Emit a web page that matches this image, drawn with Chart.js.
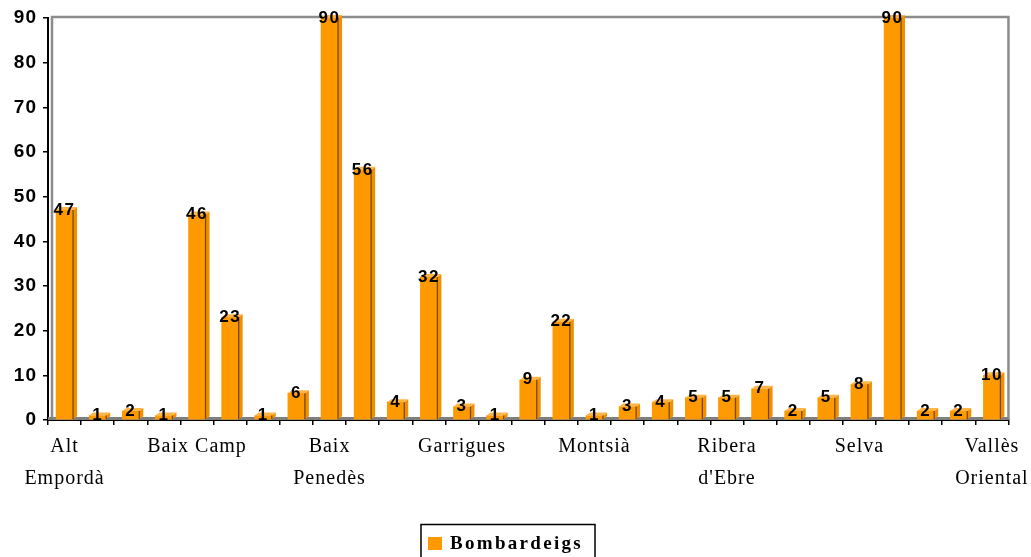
<!DOCTYPE html>
<html>
<head>
    <title>Bombardeigs per comarca</title>
    <script src="https://cdn.jsdelivr.net/npm/chart.js"></script>
    <style>
        body {
            margin: 0;
            background-color: #fff;
        }
        #grafic {
            display: block;
        }
    </style>
</head>
<body>
    <canvas id="grafic" width="1031" height="557"></canvas>

    <script>
        // Comarques, en ordre alfabètic
        var comarques = [
            'Alt Empordà', 'Alt Penedès', 'Anoia', 'Bages', 'Baix Camp', 'Baix Ebre',
            'Baix Empordà', 'Baix Llobregat', 'Baix Penedès', 'Barcelonès', 'Berguedà',
            'Garraf', 'Garrigues', 'Garrotxa', 'Gironès', 'Maresme', 'Montsià', 'Noguera',
            'Osona', 'Priorat', "Ribera d'Ebre", 'Ripollès', 'Segarra', 'Segrià', 'Selva',
            'Tarragonès', 'Terra Alta', 'Vallès Occidental', 'Vallès Oriental'
        ];
        var bombardeigs = [47, 1, 2, 1, 46, 23, 1, 6, 90, 56, 4, 32, 3, 1, 9, 22, 1, 3, 4, 5, 5, 7, 2, 5, 8, 90, 2, 2, 10];
        // només s'escriu una etiqueta de cada quatre
        var etiquetesEix = [
            ['Alt', 'Empordà'], 'Baix Camp', ['Baix', 'Penedès'], 'Garrigues',
            'Montsià', ['Ribera', "d'Ebre"], 'Selva', ['Vallès', 'Oriental']
        ];
        var marcsEixY = [0, 10, 20, 30, 40, 50, 60, 70, 80, 90];

        var taronja = '#FF9900';

        // columnes amb aspecte 3D, fons, etiquetes de valor i llegenda
        var efecte3D = {
            id: 'efecte3D',
            beforeDraw: function(chart) {
                chart.ctx.letterSpacing = '1px';
            },
            beforeDatasetsDraw: function(chart) {
                var ctx = chart.ctx, a = chart.chartArea;
                ctx.save();
                ctx.strokeStyle = '#8c8c8c';
                ctx.lineWidth = 2.5;
                ctx.beginPath();
                ctx.moveTo(a.left + 4, a.bottom - 3);
                ctx.lineTo(a.left + 4, a.top - 1);
                ctx.lineTo(a.right, a.top - 1);
                ctx.lineTo(a.right, a.bottom);
                ctx.stroke();
                ctx.fillStyle = '#7f7f7f';
                ctx.fillRect(a.left, a.bottom - 3, a.right - a.left, 3);
                ctx.restore();
            },
            afterDatasetsDraw: function(chart) {
                var ctx = chart.ctx;
                var meta = chart.getDatasetMeta(0);
                var dx = 4, dy = 3;
                ctx.save();
                meta.data.forEach(function(bar) {
                    var p = bar.getProps(['x', 'y', 'base', 'width'], true);
                    var l = p.x - p.width / 2, r = p.x + p.width / 2;
                    // cara lateral
                    ctx.fillStyle = '#F09000';
                    ctx.beginPath();
                    ctx.moveTo(r, p.base);
                    ctx.lineTo(r, p.y);
                    ctx.lineTo(r + dx, p.y - dy);
                    ctx.lineTo(r + dx, p.base - dy);
                    ctx.closePath();
                    ctx.fill();
                    // cara superior
                    ctx.fillStyle = '#FFB446';
                    ctx.beginPath();
                    ctx.moveTo(l, p.y);
                    ctx.lineTo(l + dx, p.y - dy);
                    ctx.lineTo(r + dx, p.y - dy);
                    ctx.lineTo(r, p.y);
                    ctx.closePath();
                    ctx.fill();
                    // aresta fosca
                    ctx.strokeStyle = '#7a4800';
                    ctx.lineWidth = 1.3;
                    ctx.beginPath();
                    ctx.moveTo(r, p.base);
                    ctx.lineTo(r, p.y);
                    ctx.stroke();
                });
                // valors damunt de cada columna
                ctx.font = 'bold 17px "Liberation Sans", Arial, sans-serif';
                ctx.letterSpacing = '1.5px';
                ctx.fillStyle = '#000';
                ctx.textAlign = 'center';
                ctx.textBaseline = 'middle';
                meta.data.forEach(function(bar, i) {
                    ctx.fillText(String(bombardeigs[i]), bar.x, bar.y);
                });
                ctx.restore();
            },
            afterDraw: function(chart) {
                var ctx = chart.ctx;
                ctx.save();
                ctx.strokeStyle = '#000';
                ctx.lineWidth = 1.5;
                ctx.strokeRect(421, 524.5, 174, 40);
                ctx.fillStyle = chart.data.datasets[0].backgroundColor;
                ctx.fillRect(428, 537, 14, 13);
                ctx.font = 'bold 19px "Liberation Serif", "Times New Roman", serif';
                ctx.letterSpacing = '2.3px';
                ctx.fillStyle = '#000';
                ctx.textAlign = 'left';
                ctx.textBaseline = 'middle';
                ctx.fillText(chart.data.datasets[0].label, 450, 544);
                ctx.restore();
            }
        };

        var ctx = document.getElementById('grafic').getContext('2d');
        var grafic = new Chart(ctx, {
            type: 'bar',
            data: {
                labels: comarques,
                datasets: [{
                    label: 'Bombardeigs',
                    data: bombardeigs,
                    backgroundColor: taronja,
                    borderWidth: 0,
                    barThickness: 17
                }]
            },
            options: {
                responsive: false,
                animation: false,
                devicePixelRatio: 1,
                layout: {
                    padding: { top: 18, right: 19, left: 0, bottom: 0 }
                },
                plugins: {
                    legend: { display: false },
                    tooltip: { enabled: false }
                },
                scales: {
                    x: {
                        offset: true,
                        grid: {
                            offset: true,
                            drawOnChartArea: false,
                            color: '#000',
                            lineWidth: 1.5,
                            tickLength: 5
                        },
                        border: { color: '#000', width: 2 },
                        ticks: {
                            autoSkip: false,
                            maxRotation: 0,
                            padding: 6,
                            color: '#000',
                            font: { family: '"Liberation Serif", "Times New Roman", serif', size: 20, lineHeight: 1.6 },
                            callback: function(v, i) {
                                return i % 4 === 0 ? etiquetesEix[i / 4] : '';
                            }
                        },
                        afterFit: function(scale) {
                            scale.height = 137;
                        }
                    },
                    y: {
                        min: 0,
                        max: 90,
                        afterBuildTicks: function(scale) {
                            scale.ticks = marcsEixY.map(function(v) { return { value: v }; });
                        },
                        grid: {
                            drawOnChartArea: false,
                            color: '#000',
                            lineWidth: 1.5,
                            tickLength: 5
                        },
                        border: { color: '#000', width: 2 },
                        ticks: {
                            padding: 6,
                            color: '#000',
                            font: { family: '"Liberation Sans", Arial, sans-serif', size: 19, weight: 'bold' }
                        },
                        afterFit: function(scale) {
                            scale.width = 48;
                        }
                    }
                }
            },
            plugins: [efecte3D]
        });
    </script>
</body>
</html>
